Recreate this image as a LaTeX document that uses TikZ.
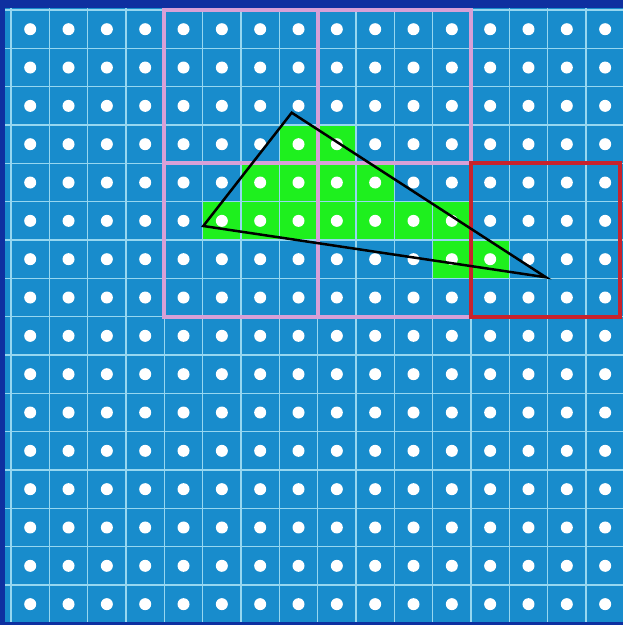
\documentclass[tikz,border=0pt]{standalone}
\definecolor{frameblue}{RGB}{14,48,160}
\definecolor{cellblue}{RGB}{24,140,204}
\definecolor{gridcol}{RGB}{150,215,240}
\definecolor{hitgreen}{RGB}{30,240,30}
\definecolor{tilepink}{RGB}{215,160,215}
\definecolor{tilered}{RGB}{200,35,45}
\tikzset{
  gridline/.style={draw=gridcol, line width=1.3pt},
  dot/.style={fill=white},
  tileline/.style={draw=tilepink, line width=4pt},
  redtile/.style={draw=tilered, line width=4pt},
  tri/.style={draw=black, line width=2.5pt, line join=miter}
}
\begin{document}
\begin{tikzpicture}[x=1pt,y=-1pt]
\useasboundingbox (0,0) rectangle (623,625);
\fill[frameblue] (0,0) rectangle (623,625);
\fill[cellblue] (5,8) rectangle (623,622);
% covered cells
\foreach \c/\r in {7/3,8/3,6/4,7/4,8/4,9/4,5/5,6/5,7/5,8/5,9/5,10/5,11/5,11/6,12/6}
  \fill[hitgreen] ({11+38.33*\c},{10+38.33*\r}) rectangle ++(38.33,38.33);
% grid lines
\begin{scope}
\clip (5,8) rectangle (623,622);
\foreach \k in {0,...,16} {
  \draw[gridline] ({11+38.33*\k},8) -- ({11+38.33*\k},622);
  \draw[gridline] (5,{10+38.33*\k}) -- (623,{10+38.33*\k});
}
\end{scope}
% sample points
\foreach \c in {0,...,15}
  \foreach \r in {0,...,15}
    \fill[dot] ({30.2+38.33*\c},{29.2+38.33*\r}) circle (6);
% tiles
\draw[tileline] (164.3,10) rectangle (471,316.7);
\draw[tileline] (317.7,10) -- (317.7,316.7);
\draw[tileline] (164.3,163.3) -- (471,163.3);
\draw[redtile] (471,163.3) rectangle (620,316.7);
% triangle
\coordinate (A) at (291.7,112.7);
\coordinate (B) at (203.3,226);
\coordinate (C) at (546,277.3);
\draw[tri] (A) -- (B) -- (C) -- cycle;
\end{tikzpicture}
\end{document}
